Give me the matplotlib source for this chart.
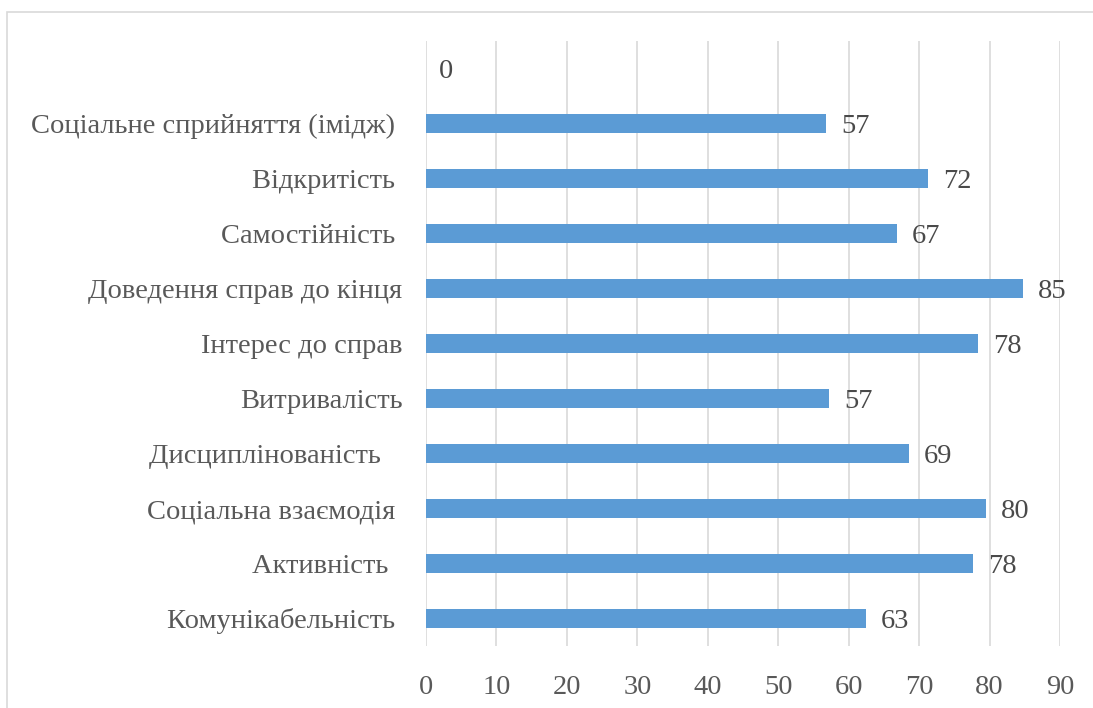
import matplotlib
matplotlib.use('Agg')
import matplotlib.pyplot as plt
from matplotlib.patches import Rectangle

plt.rcParams['font.family'] = ['Liberation Serif', 'DejaVu Serif']

# categories listed bottom to top
categories = ['Комунікабельність ', 'Активність  ', 'Соціальна взаємодія ',
              'Дисциплінованість   ', 'Витривалість', 'Інтерес до справ',
              'Доведення справ до кінця', 'Самостійність ', 'Відкритість ',
              'Соціальне сприйняття (імідж) ', '']
values = [62.4, 77.6, 79.5, 68.5, 57.2, 78.3, 84.7, 66.8, 71.2, 56.8, 0]
labels = ['63', '78', '80', '69', '57', '78', '85', '67', '72', '57', '0']
xticks = [0, 10, 20, 30, 40, 50, 60, 70, 80, 90]

text_color = '#595959'
bar_color = '#5B9BD5'
grid_color = '#D9D9D9'
fs = 20.5

fig = plt.figure(figsize=(10.93, 7.08), dpi=100)
ax = fig.add_axes([426 / 1093, 1 - 646 / 708, (1060 - 426) / 1093, (646 - 41) / 708])

pos = list(range(len(categories)))
ax.barh(pos, values, height=0.36, color=bar_color, zorder=2)

for p, v, lab in zip(pos, values, labels):
    ax.annotate(lab, (v, p), xytext=(11 if v > 0 else 9, -2), textcoords='offset points',
                va='center', ha='left', fontsize=fs, color='#4a4a4a')

ax.set_xlim(0, 90)
ax.set_ylim(-0.5, len(categories) - 0.5)
ax.set_xticks(xticks)
ax.set_yticks(pos)
ax.set_yticklabels(categories)
ax.tick_params(axis='y', length=0, pad=17, labelsize=fs, labelcolor=text_color)
ax.tick_params(axis='x', length=0, pad=21, labelsize=fs, labelcolor=text_color)
ax.xaxis.grid(True, color=grid_color, linewidth=1.2, zorder=0)
ax.set_axisbelow(True)
for s in ax.spines.values():
    s.set_visible(False)

# chart area border
fig.patches.append(Rectangle((7 / 1093, -0.05), 1.1, 1 - 12 / 708 + 0.05,
                             transform=fig.transFigure, fill=False,
                             edgecolor='#D9D9D9', linewidth=1.2))

fig.savefig('out.png', dpi=100)
